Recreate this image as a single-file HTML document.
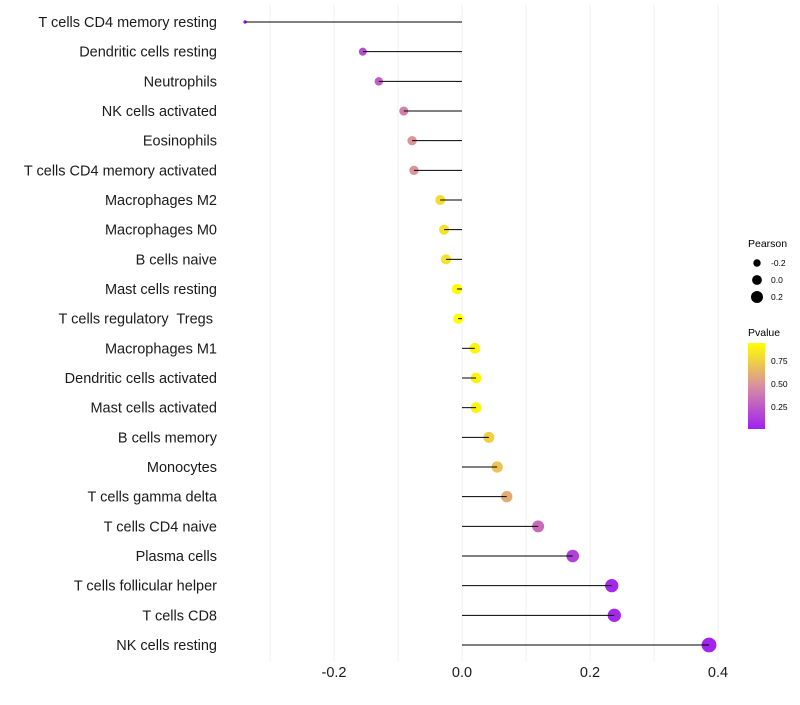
<!DOCTYPE html>
<html><head><meta charset="utf-8"><style>
body{margin:0;background:#fff;font-family:"Liberation Sans",sans-serif}
</style></head><body>
<svg id="chart" width="800" height="700" xmlns="http://www.w3.org/2000/svg" font-family="Liberation Sans, sans-serif">
<g id="grid"></g>
<g id="dots"></g>
<g id="marks"></g>
<g id="ylabels"></g>
<g id="xlabels"></g>
<g>
<text x="748" y="247" font-size="10.5">Pearson</text>
<circle cx="757" cy="263" r="3.7" fill="#000"/>
<circle cx="757" cy="280" r="4.9" fill="#000"/>
<circle cx="757" cy="297" r="6" fill="#000"/>
<text x="771" y="266" font-size="8.5">-0.2</text>
<text x="771" y="283" font-size="8.5">0.0</text>
<text x="771" y="300" font-size="8.5">0.2</text>
</g>
<g>
<defs><linearGradient id="pg" x1="0" y1="1" x2="0" y2="0">
<stop offset="0" stop-color="#A020F0"/><stop offset="0.5" stop-color="#D98FA0"/><stop offset="1" stop-color="#FFFF00"/></linearGradient></defs>
<text x="748" y="336" font-size="10.5">Pvalue</text>
<rect x="748" y="343" width="17" height="86" fill="url(#pg)"/>
<text x="771" y="364" font-size="8.5">0.75</text>
<text x="771" y="387" font-size="8.5">0.50</text>
<text x="771" y="410" font-size="8.5">0.25</text>
</g>
</svg>
<script>
const categories=["T cells CD4 memory resting","Dendritic cells resting","Neutrophils","NK cells activated","Eosinophils","T cells CD4 memory activated","Macrophages M2","Macrophages M0","B cells naive","Mast cells resting","T cells regulatory  Tregs ","Macrophages M1","Dendritic cells activated","Mast cells activated","B cells memory","Monocytes","T cells gamma delta","T cells CD4 naive","Plasma cells","T cells follicular helper","T cells CD8","NK cells resting"];
const pearson=[-0.339,-0.155,-0.130,-0.091,-0.078,-0.075,-0.034,-0.028,-0.025,-0.008,-0.006,0.020,0.022,0.022,0.042,0.055,0.070,0.119,0.173,0.234,0.238,0.386];
const pvalue=[0.03,0.2,0.27,0.42,0.5,0.5,0.8,0.82,0.83,0.95,0.95,0.9,0.9,0.9,0.75,0.7,0.6,0.33,0.15,0.05,0.05,0.03];
const xTicks=[-0.2,0.0,0.2,0.4];
const xTickLabels=["-0.2","0.0","0.2","0.4"];
const xMinor=[-0.3,-0.1,0.1,0.3];
const NS="http://www.w3.org/2000/svg";
function x(v){return 462+v*640;}
function y(i){return 22+i*(623/21);}
function mk(t,a,p){const e=document.createElementNS(NS,t);for(const k in a)e.setAttribute(k,a[k]);p.appendChild(e);return e;}
function hex(c){return [parseInt(c.slice(1,3),16),parseInt(c.slice(3,5),16),parseInt(c.slice(5,7),16)];}
const stops=[hex("#A020F0"),hex("#D98FA0"),hex("#FFFF00")];
function col(p){let t=Math.max(0,Math.min(1,(p-0.01)/(0.946-0.01)));let a,b,f;if(t<0.5){a=stops[0];b=stops[1];f=t*2}else{a=stops[1];b=stops[2];f=(t-0.5)*2}
return "rgb("+a.map((v,i)=>Math.round(v+(b[i]-v)*f)).join(",")+")";}
const pmin=Math.min(...pearson),pmax=Math.max(...pearson);
function rad(p){return Math.sqrt(3+52*(p-pmin)/(pmax-pmin));}
const grid=document.getElementById('grid'),marks=document.getElementById('marks'),dots=document.getElementById('dots'),yl=document.getElementById('ylabels'),xl=document.getElementById('xlabels');
xMinor.concat(xTicks).forEach(v=>{const l=mk('line',{x1:x(v),x2:x(v),y1:5,y2:662,stroke:'#f0f0f0','stroke-width':1},grid);

});
categories.forEach((c,i)=>{
const d=mk('circle',{cx:x(pearson[i]),cy:y(i),r:rad(pearson[i]),fill:col(pvalue[i])},dots);


const l=mk('line',{x1:x(0),x2:x(pearson[i]),y1:y(i),y2:y(i),stroke:'#000','stroke-width':1},marks);


const t=mk('text',{x:217,y:y(i)+5,'text-anchor':'end','font-size':14.5,fill:'#1a1a1a'},yl);
t.textContent=c;


t.setAttribute('xml:space','preserve');t.style.whiteSpace='pre';
});
xTicks.forEach((v,i)=>{const t=mk('text',{x:x(v),y:677,'text-anchor':'middle','font-size':14.5,fill:'#1a1a1a'},xl);
t.textContent=xTickLabels[i];

});
</script>
</body></html>
